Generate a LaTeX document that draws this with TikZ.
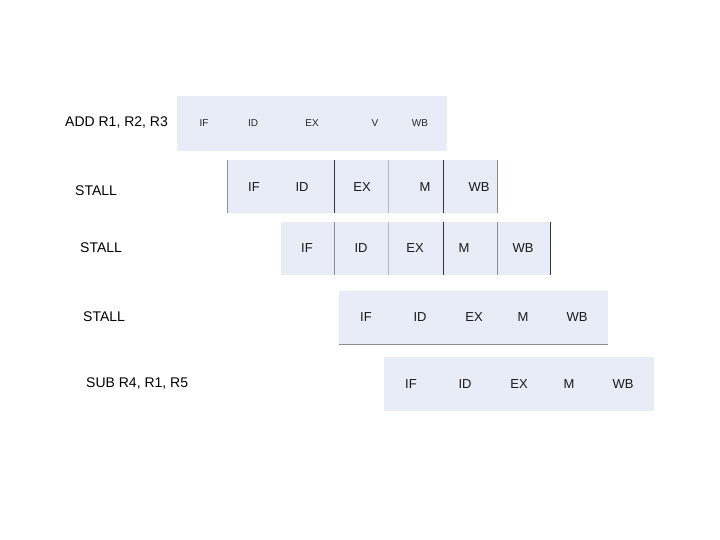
\documentclass[tikz,border=0pt]{standalone}
\usepackage{fontspec}
\setmainfont{Liberation Sans}
\definecolor{cellfill}{HTML}{E7ECF6}
\definecolor{darkline}{HTML}{333333}
\definecolor{grayline}{HTML}{8C8C8C}
\definecolor{lightline}{HTML}{B4B8C0}
\begin{document}
\begin{tikzpicture}[x=1pt,y=-1pt,
  rowbox/.style={fill=cellfill,draw=none},
  small/.style={font=\fontsize{10}{12}\selectfont,text=black!85,inner sep=0pt},
  stage/.style={font=\fontsize{13}{15}\selectfont,text=black!90,inner sep=0pt},
  instr/.style={font=\fontsize{14}{16}\selectfont,text=black,inner sep=0pt,anchor=west},
  dk/.style={draw=darkline,line width=1pt},
  gy/.style={draw=grayline,line width=0.9pt},
  lt/.style={draw=lightline,line width=0.8pt}]
\useasboundingbox (0,0) rectangle (720,540);
% row boxes
\fill[rowbox] (177,96) rectangle (447,151);
\fill[rowbox] (227,160) rectangle (497,213);
\fill[rowbox] (281,222) rectangle (551,275);
\fill[rowbox] (339,291) rectangle (608,344);
\fill[rowbox] (384,357) rectangle (654,411);
% row 2 separators
\draw[gy] (227,160) -- (227,213);
\draw[dk] (334,160) -- (334,213);
\draw[lt] (388,160) -- (388,213);
\draw[dk] (443,160) -- (443,213);
\draw[gy] (497,160) -- (497,213);
% row 3 separators
\draw[gy] (334,222) -- (334,275);
\draw[lt] (388,222) -- (388,275);
\draw[dk] (443,222) -- (443,275);
\draw[gy] (497,222) -- (497,275);
\draw[dk] (550,222) -- (550,275);
% row 4 bottom
\draw[gy] (339,344) -- (608,344);
% instruction labels
\node[instr] (i1) at (65,123) {ADD R1, R2, R3};
\node[instr] (i2) at (75,191) {STALL};
\node[instr] (i3) at (80,248) {STALL};
\node[instr] (i4) at (83,317) {STALL};
\node[instr] (i5) at (86,384) {SUB R4, R1, R5};
% row 1
\node[small] (a1) at (204,123) {IF};
\node[small] (a2) at (253,123) {ID};
\node[small] (a3) at (312,123) {EX};
\node[small] (a4) at (375,123) {V};
\node[small] (a5) at (420,123) {WB};
% row 2
\node[stage] (b1) at (254,187) {IF};
\node[stage] (b2) at (302,187) {ID};
\node[stage] (b3) at (362,187) {EX};
\node[stage] (b4) at (425,187) {M};
\node[stage] (b5) at (479,187) {WB};
% row 3
\node[stage] (c1) at (307,248) {IF};
\node[stage] (c2) at (361,248) {ID};
\node[stage] (c3) at (415,248) {EX};
\node[stage] (c4) at (464,248) {M};
\node[stage] (c5) at (523,248) {WB};
% row 4
\node[stage] (d1) at (366,317) {IF};
\node[stage] (d2) at (420,317) {ID};
\node[stage] (d3) at (474,317) {EX};
\node[stage] (d4) at (523,317) {M};
\node[stage] (d5) at (577,317) {WB};
% row 5
\node[stage] (e1) at (411,384) {IF};
\node[stage] (e2) at (465,384) {ID};
\node[stage] (e3) at (519,384) {EX};
\node[stage] (e4) at (569,384) {M};
\node[stage] (e5) at (623,384) {WB};
\end{tikzpicture}
\end{document}
